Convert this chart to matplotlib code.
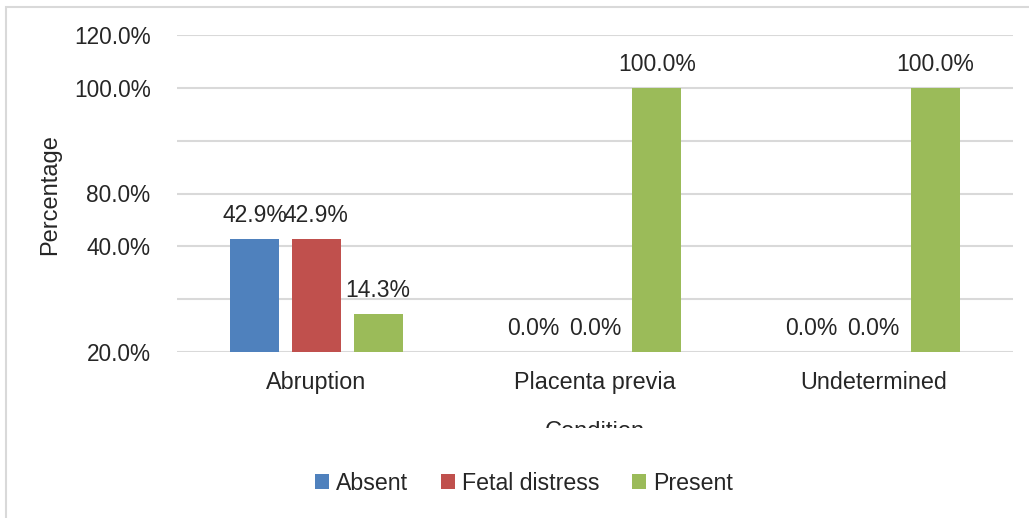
import matplotlib
matplotlib.use("Agg")
import matplotlib.pyplot as plt
import numpy as np
from matplotlib.patches import Rectangle
from matplotlib.transforms import Bbox, TransformedBbox

plt.rcParams['font.family'] = ['Liberation Sans', 'DejaVu Sans']

categories = ["Abruption", "Placenta previa", "Undetermined"]
series_names = ["Absent", "Fetal distress", "Present"]
absent = [42.9, 0.0, 0.0]
fetal_distress = [42.9, 0.0, 0.0]
present = [14.3, 100.0, 100.0]
ytick_values = [0, 20, 40, 60, 80, 100, 120]
ytick_labels = ["20.0%", "", "40.0%", "80.0%", "", "100.0%", "120.0%"]
colors = ["#4F81BD", "#C0504D", "#9BBB59"]
text_color = "#262626"

W, H = 1029, 518
fig = plt.figure(figsize=(W / 100, H / 100), dpi=100)
fig.patch.set_facecolor("white")

# outer frame
fig.patches.append(Rectangle((6 / W, -0.1), 1.2, 1 - 7 / H + 0.1, transform=fig.transFigure,
                             fill=False, edgecolor="#d9d9d9", linewidth=1.5))

ax = fig.add_axes([177 / W, 1 - 352 / H, (1013 - 177) / W, (352 - 35) / H])
x = np.arange(len(categories))
width = 0.176
step = 0.222
all_series = [absent, fetal_distress, present]
for i, (vals, name, c) in enumerate(zip(all_series, series_names, colors)):
    pos = x + (i - 1) * step
    bars = ax.bar(pos, vals, width=width, color=c, label=name, zorder=3)
    for b, v in zip(bars, vals):
        ax.annotate(f"{v:.1f}%", (b.get_x() + b.get_width() / 2, v),
                    xytext=(0, 8.5), textcoords="offset points",
                    ha="center", va="bottom", fontsize=16.5, color=text_color)

ax.set_xlim(-0.5, 2.5)
ax.set_ylim(0, 120)
ax.set_yticks(ytick_values)
ax.set_yticklabels(ytick_labels)
ax.set_xticks(x)
ax.set_xticklabels(categories)
ax.tick_params(axis="y", length=0, labelsize=16.3, colors=text_color, pad=19)
ax.tick_params(axis="x", length=0, labelsize=16.8, colors=text_color, pad=14)
ax.grid(axis="y", color="#d9d9d9", linewidth=1.5, zorder=0)
for s in ax.spines.values():
    s.set_visible(False)

fig.text(50 / W, 1 - 195 / H, "Percentage", rotation=90, ha="center", va="center",
         fontsize=17, color=text_color)

# clipped x-axis title
t = fig.text(595 / W, 1 - 421 / H, "Condition", ha="center", va="top",
             fontsize=17, color=text_color)
t.set_clip_box(TransformedBbox(Bbox([[0, 1 - 428 / H], [1, 1]]), fig.transFigure))
t.set_clip_on(True)

handles, labels = ax.get_legend_handles_labels()
fig.legend(handles, labels, loc="center", bbox_to_anchor=(524 / W, 1 - 483 / H), ncol=3,
           frameon=False, fontsize=16.7, handlelength=0.6, handleheight=0.6,
           handletextpad=0.3, columnspacing=1.4, labelcolor=text_color)

fig.savefig("out.png", dpi=100, facecolor="white")
